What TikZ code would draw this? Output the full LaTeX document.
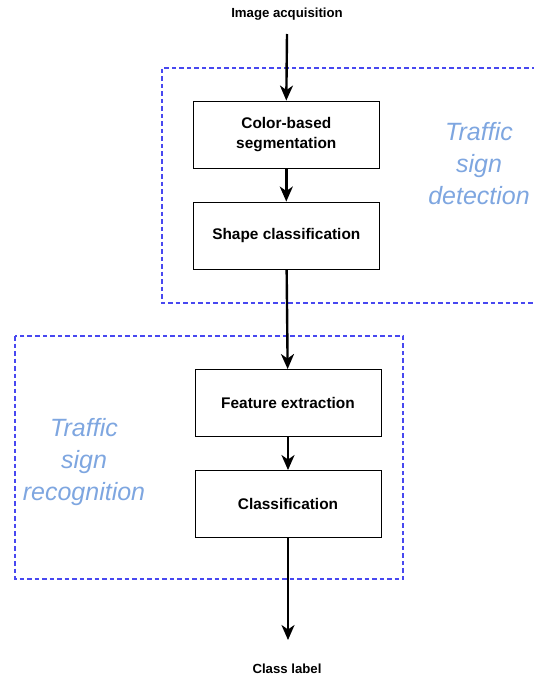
\documentclass[tikz,border=0pt]{standalone}
\usepackage{fontspec}
\setmainfont{Liberation Sans}
\usetikzlibrary{arrows.meta}
\definecolor{groupblue}{RGB}{72,72,240}
\definecolor{grouptext}{RGB}{126,166,224}
\tikzset{
  stepbox/.style={draw=black, line width=0.9pt, fill=white,
    minimum width=186pt, minimum height=67pt, inner sep=0pt,
    align=center, font=\fontsize{15.4}{20}\selectfont\bfseries},
  ioText/.style={font=\fontsize{13.2}{16}\selectfont\bfseries, inner sep=0pt},
  flow/.style={line width=2.4pt, -{Stealth[length=15pt,width=13pt,inset=4.5pt]}},
  groupline/.style={draw=groupblue, line width=1.3pt, dash pattern=on 4.5pt off 3pt},
  groupText/.style={text=grouptext, align=center,
    font=\fontsize{25}{32}\selectfont\itshape}
}
\begin{document}
\begin{tikzpicture}[x=1pt,y=-1pt]
  \useasboundingbox (0,0) rectangle (534,679);

  % processing groups
  \draw[groupline] (536,68) -- (162,68) -- (162,303) -- (536,303);
  \draw[groupline] (15,336) rectangle (403,579);
  \node[groupText] (detlabel) at (479,164) {Traffic\\sign\\detection};
  \node[groupText] (reclabel) at (84,462) {Traffic\\sign\\recognition};

  % input and output
  \node[ioText] (input) at (287,14) {Image acquisition};
  \coordinate (inStart) at (287,34);
  \node[ioText] (output) at (287,669) {Class label};
  \coordinate (outEnd) at (288,640);

  % pipeline steps
  \node[stepbox] (seg) at (286.3,134.5) {Color-based\\segmentation};
  \node[stepbox] (shape) at (286.3,235.5) {Shape classification};
  \node[stepbox] (feat) at (288,403) {Feature extraction};
  \node[stepbox] (cls) at (288,504) {Classification};

  % flow
  \draw[flow] (inStart) -- (seg.north);
  \draw[flow] (seg) -- (shape);
  \draw[flow] (shape) -- (feat);
  \draw[flow] (feat) -- (cls);
  \draw[flow] (cls) -- (outEnd);
\end{tikzpicture}
\end{document}
